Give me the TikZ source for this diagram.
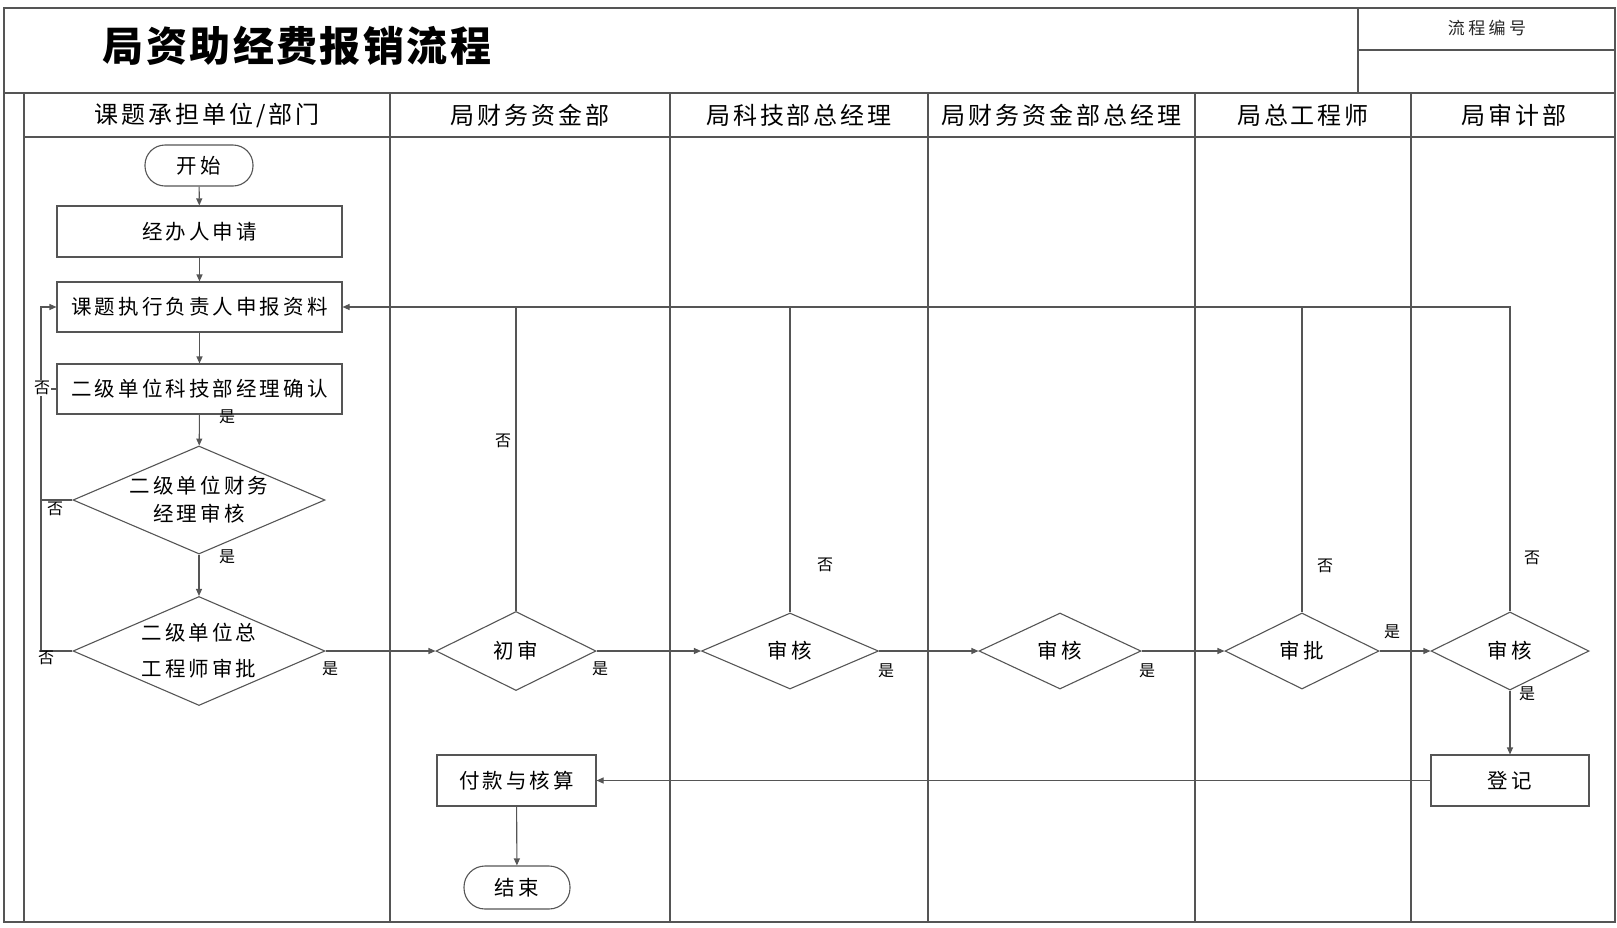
\documentclass[tikz,border=0pt]{standalone}
\usepackage{fontspec}
\usetikzlibrary{shapes.geometric,arrows.meta,calc}
\newfontfamily\bodyf{Noto Sans CJK SC}[LetterSpace=15]
\newfontfamily\headf{Noto Sans CJK SC}[LetterSpace=12]
\newfontfamily\smallf{Noto Sans CJK SC}[LetterSpace=20]
\newfontfamily\titlef{Noto Sans CJK SC}[LetterSpace=6]
\newfontfamily\labf{Noto Sans CJK SC}
\definecolor{lc}{HTML}{555555}
\begin{document}
\begin{tikzpicture}[x=1pt,y=-1pt,
  ln/.style={draw=lc, line width=1.1pt},
  arr/.style={ln, -{Triangle[length=7pt,width=6pt]}},
  btext/.style={font=\bodyf\fontsize{20.5}{24}\selectfont, text=black},
  procbox/.style={ln, rectangle, btext, inner sep=0pt},
  termbox/.style={ln, rectangle, rounded corners=20pt, btext, inner sep=0pt},
  decbox/.style={ln, diamond, btext, inner sep=0pt, align=center},
  yn/.style={font=\labf\fontsize{16}{18}\selectfont, text=black, inner sep=1pt},
  head/.style={font=\headf\fontsize{24}{28}\selectfont, text=black},
]
\useasboundingbox (0,0) rectangle (1617,927);
% frame
\draw[ln, line width=1.3pt] (4,8) rectangle (1615,922);
\draw[ln] (4,93) -- (1615,93);
\draw[ln] (24,137) -- (1615,137);
\draw[ln] (24,93) -- (24,922);
\foreach \xx in {390,670,928,1195,1411} \draw[ln] (\xx,93) -- (\xx,922);
\draw[ln] (1358,8) -- (1358,93);
\draw[ln] (1358,50) -- (1615,50);
% title
\node[font=\titlef\bfseries\fontsize{41}{46}\selectfont] (title) at (297,46) {局资助经费报销流程};
\node[font=\smallf\fontsize{17}{20}\selectfont, text=black!85] (code) at (1487,28) {流程编号};
% lane headers
\node[head] (h1) at (207,115) {课题承担单位/部门};
\node[head] (h2) at (530,115) {局财务资金部};
\node[head] (h3) at (799,115) {局科技部总经理};
\node[head] (h4) at (1061.5,115) {局财务资金部总经理};
\node[head] (h5) at (1303,115) {局总工程师};
\node[head] (h6) at (1514,115) {局审计部};
% nodes
\node[termbox, minimum width=108pt, minimum height=41pt] (st) at (199,165.5) {开始};
\node[procbox, minimum width=285pt, minimum height=51pt] (a1) at (199.5,231.5) {经办人申请};
\node[procbox, minimum width=285pt, minimum height=50pt] (sb) at (199.5,307) {课题执行负责人申报资料};
\node[procbox, minimum width=285pt, minimum height=50pt] (qr) at (199.5,389) {二级单位科技部经理确认};
\node[decbox, minimum width=252pt, minimum height=108pt, aspect=2.33] (d1) at (199,500) {二级单位财务\\[4pt]经理审核};
\node[decbox, minimum width=252pt, minimum height=109pt, aspect=2.31] (d2) at (199,651) {二级单位总\\[12pt]工程师审批};
\node[decbox, minimum width=160pt, minimum height=79pt, aspect=2.03] (c1) at (516,651) {初审};
\node[decbox, minimum width=177pt, minimum height=76pt, aspect=2.33] (c2) at (790,651) {审核};
\node[decbox, minimum width=162pt, minimum height=76pt, aspect=2.13] (c3) at (1060,651) {审核};
\node[decbox, minimum width=154pt, minimum height=76pt, aspect=2.03] (c4) at (1302,651) {审批};
\node[decbox, minimum width=158pt, minimum height=78pt, aspect=2.03] (c5) at (1510,651) {审核};
\node[procbox, minimum width=158pt, minimum height=51pt] (dj) at (1510,780.5) {登记};
\node[procbox, minimum width=159pt, minimum height=51pt] (fk) at (516.5,780.5) {付款与核算};
\node[termbox, minimum width=106pt, minimum height=43pt, rounded corners=21pt] (en) at (517,887.5) {结束};
\coordinate (lx) at (41,0);
% main flow
\draw[arr] (st) -- (a1);
\draw[arr] (a1) -- (sb);
\draw[arr] (sb) -- (qr);
\draw[arr] (qr) -- (d1);
\draw[arr] (d1) -- (d2);
\draw[arr] (d2.east) -- (c1.west);
\draw[arr] (c1.east) -- (c2.west);
\draw[arr] (c2.east) -- (c3.west);
\draw[arr] (c3.east) -- (c4.west);
\draw[arr] (c4.east) -- (c5.west);
\draw[arr] (c5.south) -- (dj.north);
\draw[arr] (dj.west) -- (fk.east);
\draw[arr] (fk) -- (en);
% left feedback
\draw[arr] (d2.west) -- (d2.west -| lx) -- (sb.west -| lx) -- (sb.west);
\draw[ln] (d1.west) -- (d1.west -| lx);
\draw[ln] (qr.west) -- (qr.west -| lx);
% top feedback
\draw[arr] (c5.north) -- (c5.north |- sb.east) -- (sb.east);
\draw[ln] (c1.north) -- (c1.north |- sb.east);
\draw[ln] (c2.north) -- (c2.north |- sb.east);
\draw[ln] (c4.north) -- (c4.north |- sb.east);
% labels
\node[yn, fill=white] (n1) at (42,388) {否};
\node[yn] (n2) at (55,509) {否};
\node[yn] (n3) at (46,658) {否};
\node[yn] (y1) at (227,417) {是};
\node[yn] (y2) at (227,557) {是};
\node[yn] (y3) at (330,669) {是};
\node[yn] (n4) at (503,441) {否};
\node[yn] (n5) at (825,565) {否};
\node[yn] (n6) at (1325,566) {否};
\node[yn] (n7) at (1532,558) {否};
\node[yn] (y4) at (600,669) {是};
\node[yn] (y5) at (886,671) {是};
\node[yn] (y6) at (1147,671) {是};
\node[yn] (y7) at (1392,632) {是};
\node[yn] (y8) at (1527,694) {是};
\end{tikzpicture}
\end{document}
